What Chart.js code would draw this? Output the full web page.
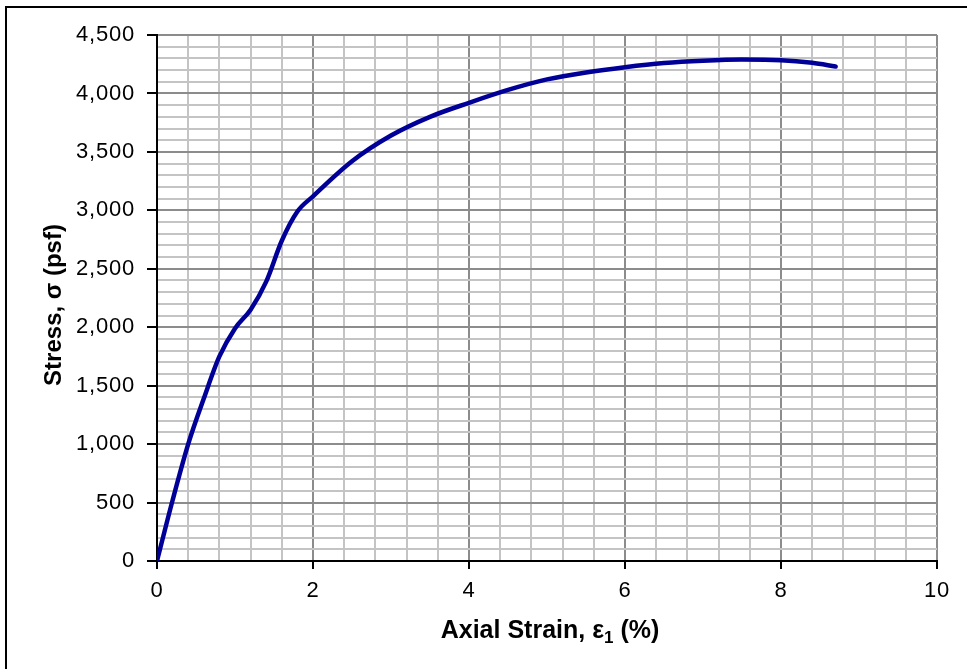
<!DOCTYPE html>
<html>
<head>
<meta charset="utf-8">
<script src="https://cdn.jsdelivr.net/npm/chart.js@4.4.0/dist/chart.umd.min.js"></script>
<style>
html,body{margin:0;padding:0;background:#fff;}
#wrap{width:967px;height:669px;position:relative;}
</style>
</head>
<body>
<div id="wrap"><canvas id="c" width="967" height="669"></canvas></div>
<script>
const strain = [0, 0.2, 0.4, 0.6, 0.8, 1.0, 1.2, 1.4, 1.6, 1.8, 2.0, 2.5, 3.0, 3.5, 4.0, 4.5, 5.0, 5.5, 6.0, 6.5, 7.0, 7.5, 8.0, 8.4, 8.7];
const stress = [0, 520, 1000, 1390, 1750, 1990, 2150, 2390, 2740, 2990, 3120, 3420, 3640, 3800, 3920, 4030, 4120, 4180, 4225, 4260, 4280, 4290, 4285, 4262, 4230];
const xTitle = ["Axial Strain, \u03b5", "1", " (%)"];
const yTitle = "Stress, \u03c3 (psf)";

const FONT = "'Liberation Sans', Arial, sans-serif";
const isMajor = (v, step) => Math.abs(v / step - Math.round(v / step)) < 1e-6;

const decor = {
  id: 'decor',
  beforeDraw(chart) {
    try { chart.ctx.letterSpacing = '0.8px'; } catch (e) {}
  },
  afterDraw(chart) {
    const ctx = chart.ctx;
    ctx.save();
    try { ctx.letterSpacing = '0px'; } catch (e) {}
    // outer frame (left/top visible)
    ctx.strokeStyle = '#000';
    ctx.lineWidth = 2;
    ctx.strokeRect(6, 7, 1000, 700);
    // y title
    ctx.fillStyle = '#000';
    ctx.font = "bold 24px " + FONT;
    ctx.textAlign = 'center';
    ctx.textBaseline = 'middle';
    ctx.translate(54, 305);
    ctx.rotate(-Math.PI / 2);
    ctx.fillText(yTitle, 0, 0);
    ctx.setTransform(1, 0, 0, 1, 0, 0);
    // x title with subscript
    ctx.font = "bold 25px " + FONT;
    const w0 = ctx.measureText(xTitle[0]).width;
    const w2 = ctx.measureText(xTitle[2]).width;
    ctx.font = "bold 17px " + FONT;
    const w1 = ctx.measureText(xTitle[1]).width;
    const total = w0 + w1 + w2;
    let x = 550 - total / 2;
    const base = 638;
    ctx.textAlign = 'left';
    ctx.textBaseline = 'alphabetic';
    ctx.font = "bold 25px " + FONT;
    ctx.fillText(xTitle[0], x, base);
    x += w0;
    ctx.font = "bold 17px " + FONT;
    ctx.fillText(xTitle[1], x, base + 5);
    x += w1;
    ctx.font = "bold 25px " + FONT;
    ctx.fillText(xTitle[2], x, base);
    ctx.restore();
  }
};

new Chart(document.getElementById('c'), {
  type: 'line',
  data: {
    datasets: [{
      data: strain.map((x, i) => ({x: x, y: stress[i]})),
      borderColor: '#000099',
      borderWidth: 4.5,
      pointRadius: 0,
      fill: false,
      cubicInterpolationMode: 'monotone',
      borderCapStyle: 'round'
    }]
  },
  options: {
    responsive: false,
    animation: false,
    devicePixelRatio: 1,
    layout: {padding: {left: 0, top: 35, right: 30, bottom: 0}},
    plugins: {legend: {display: false}, tooltip: {enabled: false}},
    scales: {
      x: {
        type: 'linear', min: 0, max: 10,
        afterFit(s) { s.height = 108; },
        ticks: {
          stepSize: 0.4, autoSkip: false, maxRotation: 0, padding: 9,
          color: '#000', font: {family: FONT, size: 22},
          callback: v => isMajor(v, 2) ? String(Math.round(v)) : ''
        },
        grid: {
          color: c => isMajor(c.tick.value, 2) ? '#8c8c8c' : '#c4c4c4',
          lineWidth: 2,
          tickLength: 8,
          tickColor: c => isMajor(c.tick.value, 2) ? '#000' : 'rgba(0,0,0,0)'
        },
        border: {color: '#000', width: 2}
      },
      y: {
        type: 'linear', min: 0, max: 4500,
        afterFit(s) { s.width = 157; },
        ticks: {
          stepSize: 100, autoSkip: false, padding: 12,
          color: '#000', font: {family: FONT, size: 22},
          callback: v => isMajor(v, 500) ? v.toLocaleString('en-US') : ''
        },
        grid: {
          color: c => isMajor(c.tick.value, 500) ? '#8c8c8c' : '#c4c4c4',
          lineWidth: 2,
          tickLength: 10,
          tickColor: c => isMajor(c.tick.value, 500) ? '#000' : 'rgba(0,0,0,0)'
        },
        border: {color: '#000', width: 2}
      }
    }
  },
  plugins: [decor]
});
</script>
</body>
</html>
